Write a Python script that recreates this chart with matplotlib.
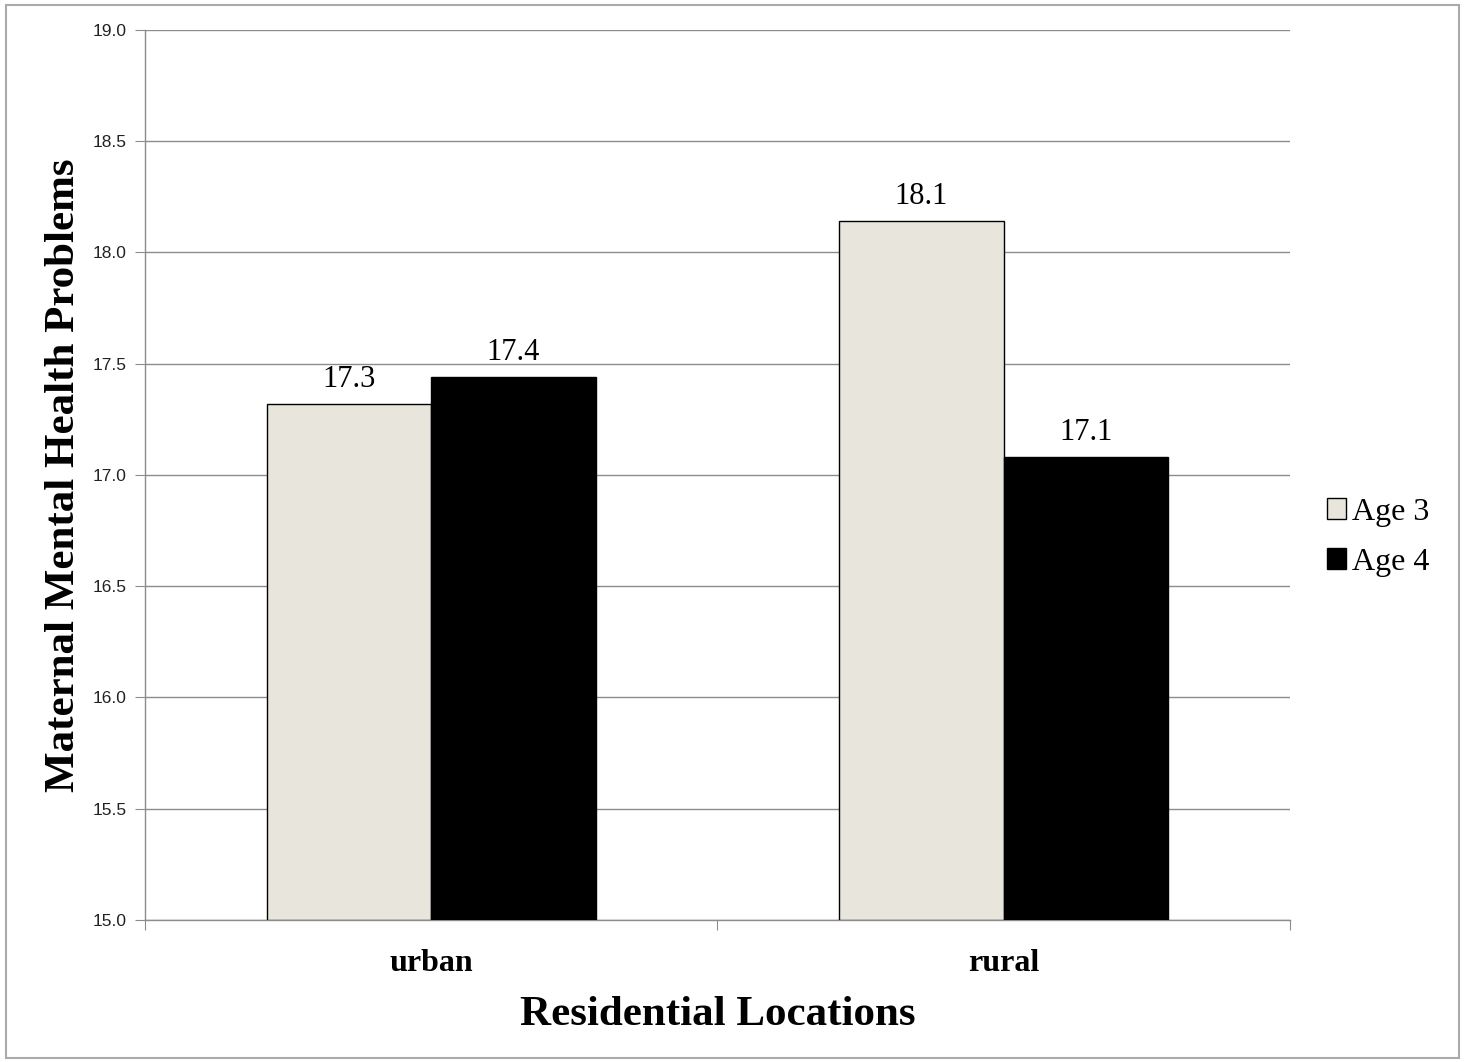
import matplotlib
matplotlib.use("Agg")
import matplotlib.pyplot as plt
import numpy as np
from matplotlib.patches import Rectangle

categories = ["urban", "rural"]
series_names = ["Age 3", "Age 4"]
age3 = [17.32, 18.14]
age4 = [17.44, 17.08]
age3_labels = ["17.3", "18.1"]
age4_labels = ["17.4", "17.1"]
y_ticks = [15.0, 15.5, 16.0, 16.5, 17.0, 17.5, 18.0, 18.5, 19.0]

serif = ["Liberation Serif", "DejaVu Serif"]
sans = ["Liberation Sans", "DejaVu Sans"]
grid_col = "#8c8c8c"

fig = plt.figure(figsize=(14.65, 10.62), dpi=100)
fig.patch.set_facecolor("white")
ax = fig.add_axes([0.099, 0.1337, 0.7815, 0.8381])

x = np.arange(len(categories))
w = 0.287
ax.bar(x - w / 2, np.array(age3) - 15, width=w, bottom=15, color="#e8e6dc",
       edgecolor="black", linewidth=1.0, label=series_names[0], zorder=3)
ax.bar(x + w / 2, np.array(age4) - 15, width=w, bottom=15, color="black",
       edgecolor="black", linewidth=1.0, label=series_names[1], zorder=3)

for xi, v, s in zip(x - w / 2, age3, age3_labels):
    ax.text(xi, v + 0.045, s, ha="center", va="bottom", fontsize=22, family=serif)
for xi, v, s in zip(x + w / 2, age4, age4_labels):
    ax.text(xi, v + 0.045, s, ha="center", va="bottom", fontsize=22, family=serif)

ax.set_ylim(15, 19)
ax.set_xlim(-0.5, 1.5)
ax.set_yticks(y_ticks)
ax.set_yticklabels([f"{t:.1f}" for t in y_ticks], fontsize=12.5, family=sans, color="#222222")
ax.yaxis.grid(True, color=grid_col, linewidth=1.0, zorder=0)
ax.set_axisbelow(True)

ax.set_xticks([-0.5, 0.5, 1.5])
ax.set_xticklabels([])
ax.set_xticks(x, minor=True)
ax.set_xticklabels(categories, minor=True, fontsize=23, fontweight="bold", family=serif)
ax.tick_params(axis="x", which="minor", length=0, pad=21)
ax.tick_params(axis="x", which="major", length=7, color=grid_col, direction="out")
ax.tick_params(axis="y", length=7, color=grid_col, direction="out", pad=6)

for side in ["top", "right"]:
    ax.spines[side].set_visible(False)
for side in ["left", "bottom"]:
    ax.spines[side].set_color(grid_col)
    ax.spines[side].set_linewidth(1.0)

ax.set_xlabel("Residential Locations", fontsize=31, fontweight="bold", family=serif, labelpad=13)
ax.set_ylabel("Maternal Mental Health Problems", fontsize=31, fontweight="bold", family=serif, labelpad=7)

ax.legend(loc="center left", bbox_to_anchor=(1.007, 0.43), frameon=False,
          prop={"family": serif, "size": 23}, handlelength=0.6, handleheight=0.6,
          handletextpad=0.2, labelspacing=0.65)

fig.patches.append(Rectangle((0.004, 0.004), 0.992, 0.991, transform=fig.transFigure,
                             fill=False, edgecolor="#aaaaaa", linewidth=1.5))

fig.savefig("out.png", dpi=100)
